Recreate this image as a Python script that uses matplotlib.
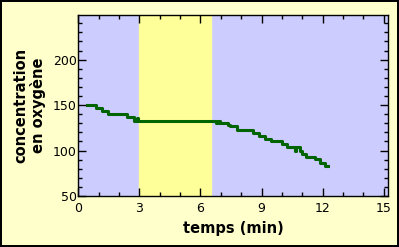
import matplotlib
matplotlib.use('Agg')
import matplotlib.pyplot as plt
from matplotlib.ticker import MultipleLocator

# step data: value held from t[i] to t[i+1]
t = [0.44, 0.87, 1.15, 1.48, 2.38, 2.75, 2.88, 2.95, 6.78, 6.85, 6.97, 7.35, 7.46,
     7.79, 8.56, 8.89, 9.18, 9.46, 10.0, 10.25, 10.64, 10.68, 10.87, 10.99, 11.2,
     11.64, 11.86, 12.1, 12.25]
oxy = [150, 147, 144, 140, 137, 133, 136, 133, 130, 133, 130, 128, 126.5,
       123, 119.5, 116.5, 113, 110, 107, 104, 99.5, 104, 99.5, 96.5, 92.5,
       90.5, 86.5, 83, 83]
light_on, light_off = 3.0, 6.53
x_ticks = [0, 3, 6, 9, 12, 15]
y_ticks = [50, 100, 150, 200]

fig = plt.figure(figsize=(3.99, 2.47), dpi=100, facecolor='#ffffcc',
                 edgecolor='black', linewidth=1.5)
ax = fig.add_axes([0.196, 0.2065, 0.776, 0.7325])
ax.set_facecolor('#ccccff')
ax.axvspan(light_on, light_off, color='#ffff99', zorder=0)
ax.plot(t, oxy, drawstyle='steps-post', color='#006400', lw=2.2)

ax.set_xlim(0, 15.2)
ax.set_ylim(52, 249)
ax.set_xticks(x_ticks)
ax.set_yticks(y_ticks)
ax.xaxis.set_minor_locator(MultipleLocator(1))
ax.yaxis.set_minor_locator(MultipleLocator(10))
ax.tick_params(which='both', direction='in', top=True, right=True, labelsize=9)
ax.tick_params(which='major', length=6, width=1)
ax.tick_params(which='minor', length=3, width=1)
ax.tick_params(axis='y', pad=1)
ax.tick_params(axis='x', pad=4)
for s in ax.spines.values():
    s.set_linewidth(1)

ax.set_xlabel('temps (min)', fontsize=10.5, fontweight='bold', labelpad=5)
ax.set_ylabel('concentration\nen oxygène', fontsize=10.5, fontweight='bold',
              labelpad=5, linespacing=1.1)

fig.savefig('out.png', dpi=100, facecolor=fig.get_facecolor(), edgecolor='black')
